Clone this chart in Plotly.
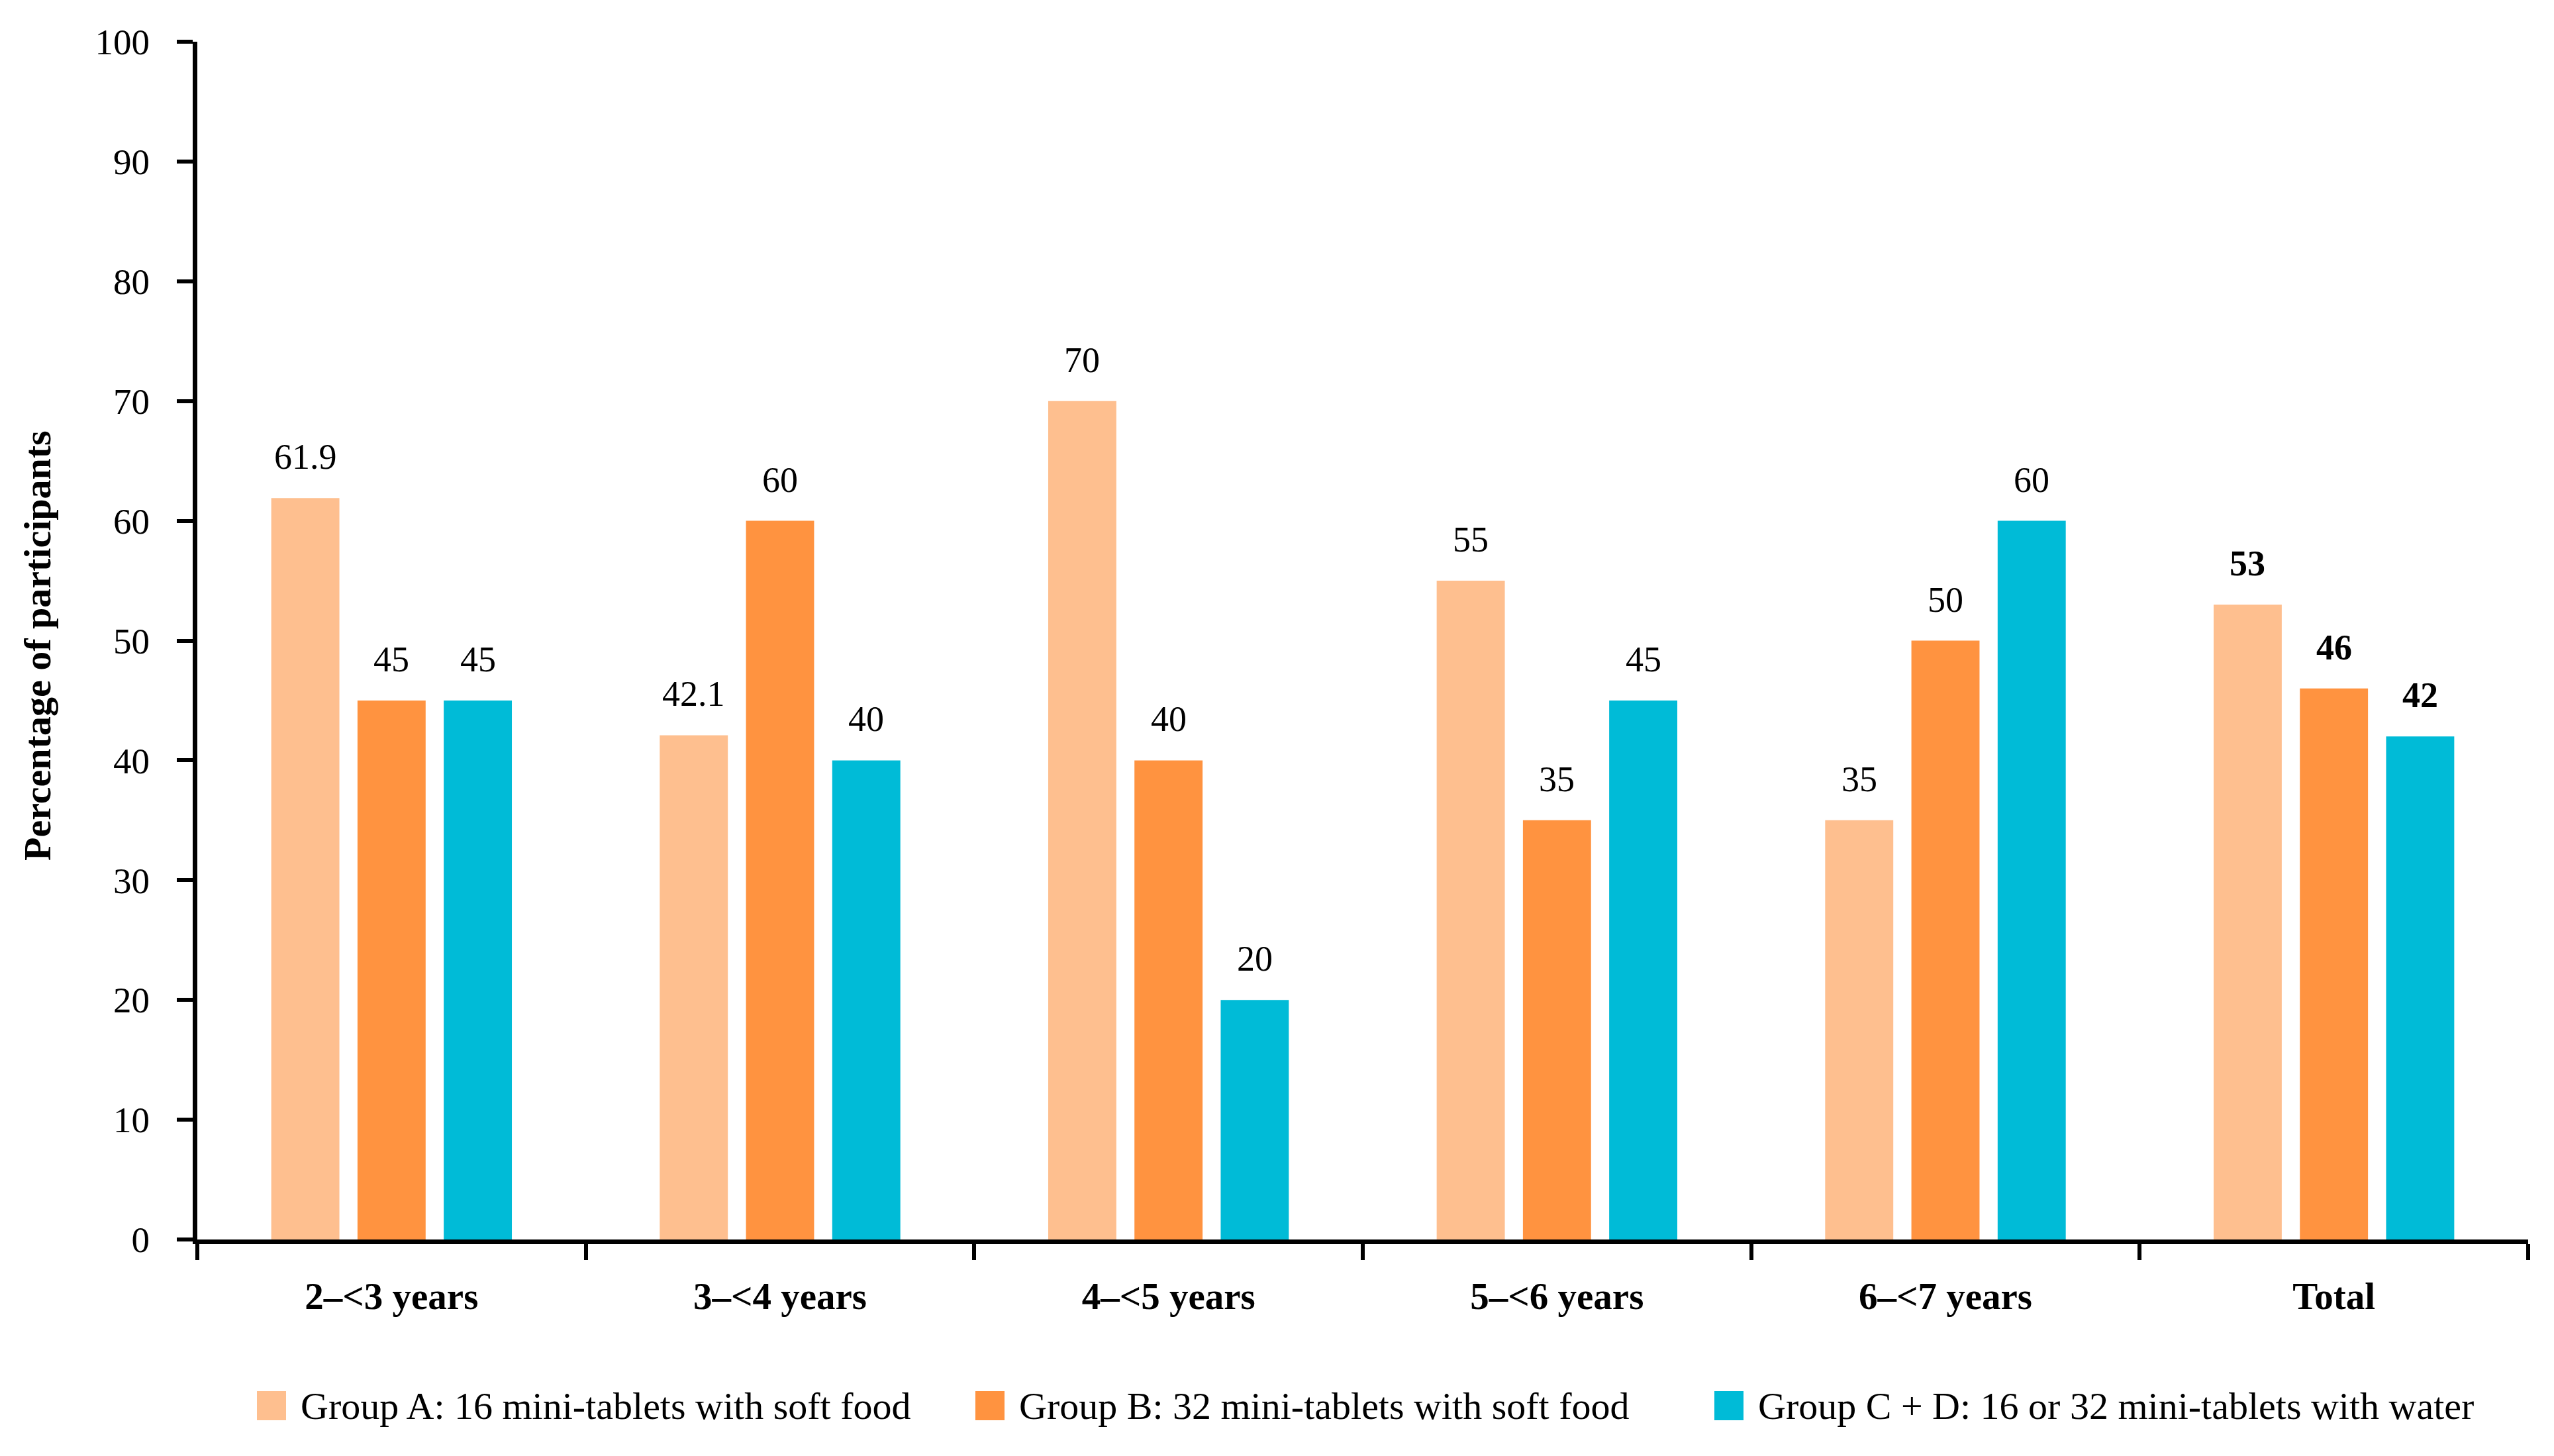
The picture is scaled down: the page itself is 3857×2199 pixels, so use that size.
import plotly.graph_objects as go

categories = ["2–<3 years", "3–<4 years", "4–<5 years", "5–<6 years", "6–<7 years", "Total"]
series_names = [
    "Group A: 16 mini-tablets with soft food",
    "Group B: 32 mini-tablets with soft food",
    "Group C + D: 16 or 32 mini-tablets with water",
]
group_a = [61.9, 42.1, 70, 55, 35, 53]
group_b = [45, 60, 40, 35, 50, 46]
group_cd = [45, 40, 20, 45, 60, 42]
y_ticks = [0, 10, 20, 30, 40, 50, 60, 70, 80, 90, 100]
y_title = "Percentage of participants"

series_values = [group_a, group_b, group_cd]
colors = ["#FEBF8F", "#FF9340", "#00BBD7"]

W, H = 3857, 2199
ML, MR, MT, MB = 290, 47, 55, 335
FONT = "Liberation Serif, Times New Roman, serif"
FS_TICK = 55
FS_XLAB = 57
FS_LAB = 54
FS_LEG = 58
BARGAP = 0.334
BARGROUPGAP = 0.21

plot_w = W - ML - MR
plot_h = H - MT - MB

fig = go.Figure()
for name, vals, col in zip(series_names, series_values, colors):
    fig.add_trace(go.Bar(
        x=categories, y=vals, name=name,
        marker=dict(color=col, line=dict(width=0)),
        showlegend=False,
    ))

# value labels above bars
slot = plot_w / len(categories) * (1 - BARGAP) / len(series_values)
ann = []
for i, vals in enumerate(series_values):
    for cat, v in zip(categories, vals):
        txt = f"{v:g}"
        if cat == "Total":
            txt = f"<b>{txt}</b>"
        ann.append(dict(
            x=cat, y=v, xref="x", yref="y", text=txt, showarrow=False,
            xshift=(i - 1) * slot, yshift=30, yanchor="bottom",
            font=dict(family=FONT, size=FS_LAB, color="black"),
        ))

# legend drawn below the plot (large square swatches like the original)
LEG_X_PX = [380, 1465, 2581]
LEG_Y_PX = 2115
SW = 44
shapes = []
for name, col, xpx in zip(series_names, colors, LEG_X_PX):
    x0 = (xpx - ML) / plot_w
    x1 = (xpx + SW - ML) / plot_w
    y0 = (H - MB - (LEG_Y_PX + SW / 2)) / plot_h
    y1 = (H - MB - (LEG_Y_PX - SW / 2)) / plot_h
    shapes.append(dict(type="rect", xref="paper", yref="paper",
                       x0=x0, x1=x1, y0=y0, y1=y1,
                       fillcolor=col, line=dict(width=0)))
    ann.append(dict(
        x=(xpx + SW + 20 - ML) / plot_w, y=(H - MB - LEG_Y_PX) / plot_h,
        xref="paper", yref="paper", text=name, showarrow=False,
        xanchor="left", yanchor="middle",
        font=dict(family=FONT, size=FS_LEG, color="black"),
    ))

# y-axis title
TITLE_X_PX = 49
TITLE_Y_PX = 967
ann.append(dict(
    x=(TITLE_X_PX - ML) / plot_w, y=(H - MB - TITLE_Y_PX) / plot_h,
    xref="paper", yref="paper", text=f"<b>{y_title}</b>", showarrow=False,
    textangle=-90, xanchor="center", yanchor="middle",
    font=dict(family=FONT, size=FS_LEG, color="black"),
))

fig.update_layout(
    width=W, height=H,
    margin=dict(l=ML, r=MR, t=MT, b=MB),
    paper_bgcolor="white", plot_bgcolor="white",
    barmode="group", bargap=BARGAP, bargroupgap=BARGROUPGAP,
    font=dict(family=FONT, size=FS_TICK, color="black"),
    annotations=ann, shapes=shapes, showlegend=False,
)
fig.update_xaxes(
    type="category", showline=True, linecolor="black", linewidth=7,
    ticks="outside", tickson="boundaries", ticklen=24, tickwidth=6, tickcolor="black",
    tickfont=dict(family=FONT, size=FS_XLAB, color="black", weight="bold"),
    ticklabelstandoff=30, showgrid=False, zeroline=False,
)
fig.update_yaxes(
    range=[0, 100], tickvals=y_ticks, showline=True, linecolor="black", linewidth=7,
    ticks="outside", ticklen=24, tickwidth=6, tickcolor="black",
    tickfont=dict(family=FONT, size=FS_TICK, color="black"),
    ticklabelstandoff=30, showgrid=False, zeroline=False,
)

fig.write_html("out.html")
